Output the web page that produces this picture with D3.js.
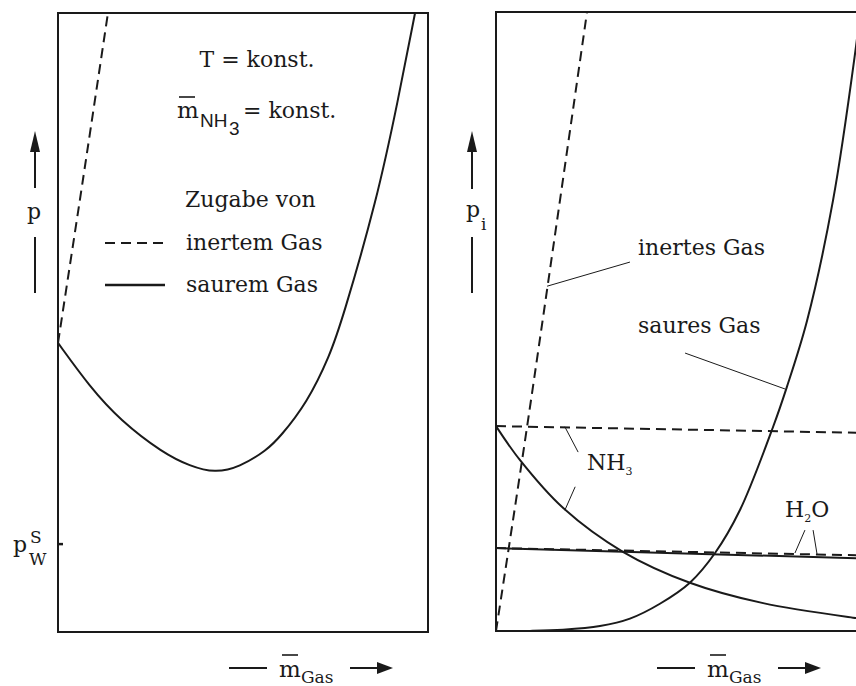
<!DOCTYPE html>
<html>
<head>
<meta charset="utf-8">
<script src="https://cdn.jsdelivr.net/npm/d3@7"></script>
<style>
  body { margin: 0; background: #fff; }
  svg { display: block; }
</style>
</head>
<body>
<svg id="chart" width="856" height="686"></svg>
<script>
// Left panel: total pressure p over m_Gas (arbitrary units 0..100)
const leftInertX = [0, 6.8, 13.5];
const leftInertY = [46.7, 73.3, 100];
const leftAcidX = [0, 8.6, 16.8, 28.4, 35.7, 42.4, 49.0, 56.5, 60.0, 67.3, 73.5, 76.8, 86.2, 91.9, 96.5];
const leftAcidY = [46.7, 39.6, 34.2, 28.9, 26.8, 25.7, 26.6, 29.4, 31.5, 37.0, 44.7, 50.4, 69.8, 85.9, 100];
const pWS = 14.2;

// Right panel: partial pressures p_i over m_Gas
const inertX = [0, 8.4, 24.6];
const inertY = [0, 33.0, 100];
const acidX = [0, 9.2, 18.1, 28.1, 36.2, 44.3, 52.4, 59.2, 65.9, 74.9, 78.6, 84.1, 91.1, 97.0, 98.4];
const acidY = [0, 0.02, 0.2, 0.8, 2.0, 4.4, 7.8, 12.6, 19.5, 33.0, 39.4, 50.2, 69.6, 93.1, 100];
const nh3DashX = [0, 100];
const nh3DashY = [33.1, 32.0];
const nh3X = [0, 6.5, 18.1, 34.3, 52.4, 72.2, 97.3, 100];
const nh3Y = [33.1, 27.6, 19.9, 12.8, 7.8, 4.5, 2.1, 1.9];
const h2oDashX = [0, 100];
const h2oDashY = [13.4, 12.2];
const h2oX = [0, 100];
const h2oY = [13.4, 11.7];

const ink = "#1a1a1a";
const serif = "'DejaVu Serif', 'Liberation Serif', 'Times New Roman', serif";
const sans = "'Liberation Sans', Arial, sans-serif";
const fs = 22;      // main label size
const fsSub = 17;   // sub/superscripts
const svg = d3.select("#chart");

const zip = (xs, ys) => xs.map((x, i) => [x, ys[i]]);

// panel geometry
const L = { x: d3.scaleLinear().domain([0, 100]).range([58, 428]),
            y: d3.scaleLinear().domain([0, 100]).range([632, 13]) };
const R = { x: d3.scaleLinear().domain([0, 100]).range([496, 866]),
            y: d3.scaleLinear().domain([0, 100]).range([631, 12]) };

function curve(g, sc, xs, ys, dashed, factory) {
  const line = d3.line().x(d => sc.x(d[0])).y(d => sc.y(d[1]))
    .curve(factory || d3.curveCatmullRom.alpha(0.5));
  g.append("path").attr("d", line(zip(xs, ys)))
    .attr("fill", "none").attr("stroke", ink).attr("stroke-width", 2)
    .attr("stroke-dasharray", dashed ? "10,6" : null);
}

function leader(g, sc, x1, y1, x2, y2) {
  g.append("line").attr("x1", sc.x(x1)).attr("y1", sc.y(y1))
    .attr("x2", sc.x(x2)).attr("y2", sc.y(y2))
    .attr("stroke", ink).attr("stroke-width", 1);
}

function label(g, x, y, size, txt, font) {
  return g.append("text").attr("x", x).attr("y", y)
    .attr("font-family", font || serif).attr("font-size", size).attr("fill", ink).text(txt);
}

function vArrow(x, yTip, yEnd, y2a, y2b) {
  svg.append("line").attr("x1", x).attr("x2", x).attr("y1", yTip + 18).attr("y2", yEnd)
    .attr("stroke", ink).attr("stroke-width", 2);
  svg.append("path").attr("d", `M${x},${yTip} L${x - 5},${yTip + 21} L${x + 5},${yTip + 21} Z`).attr("fill", ink);
  svg.append("line").attr("x1", x).attr("x2", x).attr("y1", y2a).attr("y2", y2b)
    .attr("stroke", ink).attr("stroke-width", 2);
}

function xLabel(x0, y) {
  // "— m̄Gas →"
  svg.append("line").attr("x1", x0).attr("x2", x0 + 38).attr("y1", y).attr("y2", y)
    .attr("stroke", ink).attr("stroke-width", 2);
  label(svg, x0 + 50, y + 9, 23, "m");
  svg.append("line").attr("x1", x0 + 53).attr("x2", x0 + 69).attr("y1", y - 13).attr("y2", y - 13)
    .attr("stroke", ink).attr("stroke-width", 1.6);
  label(svg, x0 + 72, y + 15, fsSub, "Gas");
  svg.append("line").attr("x1", x0 + 121).attr("x2", x0 + 152).attr("y1", y).attr("y2", y)
    .attr("stroke", ink).attr("stroke-width", 2);
  svg.append("path").attr("d", `M${x0 + 164},${y} L${x0 + 148},${y - 6} L${x0 + 148},${y + 6} Z`).attr("fill", ink);
}

// ---------- left panel ----------
const gl = svg.append("g");
gl.append("rect").attr("x", 58).attr("y", 13).attr("width", 370).attr("height", 619)
  .attr("fill", "none").attr("stroke", ink).attr("stroke-width", 2);
curve(gl, L, leftInertX, leftInertY, true);
curve(gl, L, leftAcidX, leftAcidY, false, d3.curveBasis);
gl.append("line").attr("x1", 58).attr("x2", 63).attr("y1", L.y(pWS)).attr("y2", L.y(pWS))
  .attr("stroke", ink).attr("stroke-width", 2.5);

label(gl, 13, 552, fs, "p");
label(gl, 30, 543, fsSub, "S");
label(gl, 29, 565, fsSub, "W");

label(gl, 257, 67, fs, "T = konst.").attr("text-anchor", "middle");
label(gl, 177, 118, 23, "m");
gl.append("line").attr("x1", 179).attr("x2", 195).attr("y1", 97).attr("y2", 97).attr("stroke", ink).attr("stroke-width", 1.6);
label(gl, 200, 127, 19, "NH", sans);
label(gl, 229, 135, 19, "3", sans);
label(gl, 243, 118, fs, "= konst.");

label(gl, 185, 207, fs, "Zugabe von");
label(gl, 186, 250, fs, "inertem Gas");
label(gl, 186, 292, fs, "saurem Gas");
gl.append("line").attr("x1", 105).attr("x2", 165).attr("y1", 243).attr("y2", 243)
  .attr("stroke", ink).attr("stroke-width", 2).attr("stroke-dasharray", "10,6");
gl.append("line").attr("x1", 105).attr("x2", 165).attr("y1", 285).attr("y2", 285)
  .attr("stroke", ink).attr("stroke-width", 2.5);

vArrow(35, 131, 188, 237, 293);
label(gl, 34, 219, fs, "p").attr("text-anchor", "middle");
xLabel(229, 668);

// ---------- right panel ----------
svg.append("clipPath").attr("id", "rclip").append("rect")
  .attr("x", 496).attr("y", 12).attr("width", 370).attr("height", 619);
const gr = svg.append("g");
gr.append("path").attr("d", "M866,12 H496 V631 H866")
  .attr("fill", "none").attr("stroke", ink).attr("stroke-width", 2);
const gc = gr.append("g").attr("clip-path", "url(#rclip)");
curve(gc, R, inertX, inertY, true);
curve(gc, R, acidX, acidY, false);
curve(gc, R, nh3DashX, nh3DashY, true);
curve(gc, R, nh3X, nh3Y, false);
curve(gc, R, h2oDashX, h2oDashY, true);
curve(gc, R, h2oX, h2oY, false);

leader(gr, R, 36.2, 59.6, 13.8, 55.7);
leader(gr, R, 51.1, 44.9, 78.1, 39.1);
leader(gr, R, 22.2, 28.9, 18.6, 33.0);
leader(gr, R, 21.4, 23.3, 18.6, 19.5);
leader(gr, R, 83.5, 16.3, 80.8, 12.6);
leader(gr, R, 85.7, 16.3, 86.8, 12.3);

label(gr, R.x(38.4), R.y(60.7), fs, "inertes Gas");
label(gr, R.x(38.4), R.y(48.1), fs, "saures Gas");
const nh3 = label(gr, R.x(24.6), R.y(26.0), fs, null);
nh3.append("tspan").text("NH");
nh3.append("tspan").attr("font-size", 11).attr("dy", 5).text("3");
const h2o = label(gr, R.x(78.1), R.y(18.4), fs, null);
h2o.append("tspan").text("H");
h2o.append("tspan").attr("font-size", 11).attr("dy", 5).text("2");
h2o.append("tspan").attr("dy", -5).text("O");

vArrow(472, 131, 189, 237, 293);
label(gr, 466, 217, fs, "p");
label(gr, 481, 230, fsSub, "i");
xLabel(657, 668);
</script>
</body>
</html>
